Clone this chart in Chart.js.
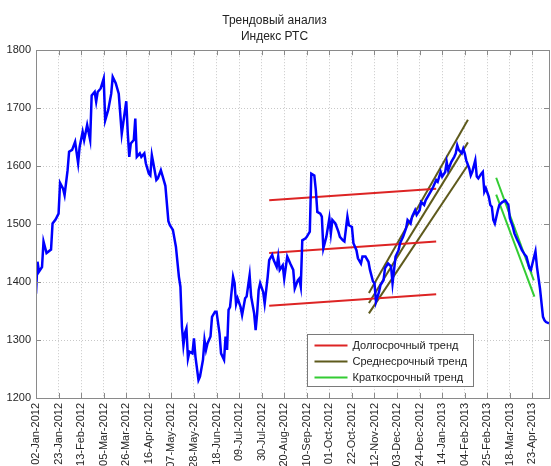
<!DOCTYPE html>
<html>
<head>
<meta charset="utf-8">
<script src="https://cdn.jsdelivr.net/npm/chart.js@4.4.0/dist/chart.umd.min.js"></script>
<style>
  html, body { margin: 0; padding: 0; background: #fff; }
  #wrap { width: 551px; height: 466px; }
</style>
</head>
<body>
<div id="wrap"><canvas id="chart" width="551" height="466"></canvas></div>
<script>
/* ── data ── */
// x = trading-day index, ticks every 15 trading days
const tickLabels = [
  '02-Jan-2012', '23-Jan-2012', '13-Feb-2012', '05-Mar-2012', '26-Mar-2012', '16-Apr-2012',
  '07-May-2012', '28-May-2012', '18-Jun-2012', '09-Jul-2012', '30-Jul-2012', '20-Aug-2012',
  '10-Sep-2012', '01-Oct-2012', '22-Oct-2012', '12-Nov-2012', '03-Dec-2012', '24-Dec-2012',
  '14-Jan-2013', '04-Feb-2013', '25-Feb-2013', '18-Mar-2013', '23-Apr-2013'
];
const yTicks = [1200, 1300, 1400, 1500, 1600, 1700, 1800];

const dayIdx = [
  0, 1, 2, 4, 5, 7, 10, 11, 13, 15, 16, 18, 19, 21, 22, 24, 26, 28, 29, 31, 32, 34, 36, 37, 39,
  40, 41, 43, 45, 46, 48, 50, 51, 53, 55, 57, 60, 61, 62, 63, 65, 66, 67, 69, 70, 72, 73, 75, 76,
  77, 78, 80, 81, 83, 84, 86, 88, 89, 91, 93, 95, 96, 97, 98, 99, 100, 101, 102, 104, 105, 106,
  108, 109, 111, 112, 113, 114, 116, 117, 119, 120, 122, 123, 125, 126, 127, 128, 129, 131, 132,
  133, 134, 136, 137, 139, 140, 142, 143, 145, 146, 147, 148, 149, 151, 152, 154, 155, 157, 158,
  160, 161, 162, 164, 165, 167, 168, 169, 171, 172, 174, 175, 176, 177, 179, 180, 182, 183, 185,
  186, 187, 189, 190, 191, 193, 195, 196, 197, 199, 201, 202, 204, 205, 207, 208, 210, 211, 213,
  214, 216, 217, 219, 221, 222, 224, 225, 226, 228, 229, 231, 232, 234, 236, 237, 239, 241, 242,
  244, 246, 247, 249, 250, 252, 253, 255, 256, 258, 259, 261, 263, 264, 266, 267, 269, 270, 272,
  273, 274, 276, 278, 279, 280, 281, 283, 284, 285, 286, 288, 289, 290, 292, 293, 294, 296, 297,
  298, 299, 301, 302, 303, 304, 305, 307, 308, 310, 312, 314, 315, 317, 318, 320, 321, 323, 325,
  326, 328, 329, 330, 332, 333, 335, 337, 338, 339, 341
];
const rtsValues = [
  1380, 1435, 1418, 1426, 1470, 1450, 1456, 1501, 1508, 1518, 1571, 1561, 1550, 1593, 1625, 1628,
  1642, 1605, 1633, 1659, 1645, 1671, 1645, 1722, 1728, 1711, 1728, 1734, 1751, 1679, 1697, 1725,
  1754, 1743, 1725, 1656, 1712, 1657, 1616, 1639, 1645, 1682, 1616, 1622, 1616, 1622, 1605, 1587,
  1584, 1619, 1605, 1576, 1579, 1593, 1584, 1566, 1505, 1498, 1490, 1461, 1409, 1392, 1323, 1291,
  1312, 1320, 1268, 1280, 1277, 1303, 1271, 1231, 1237, 1266, 1300, 1283, 1294, 1306, 1340, 1349,
  1349, 1311, 1277, 1266, 1306, 1283, 1352, 1357, 1409, 1398, 1362, 1372, 1357, 1343, 1372, 1375,
  1412, 1375, 1346, 1317, 1346, 1386, 1398, 1383, 1363, 1409, 1438, 1447, 1438, 1426, 1444, 1421,
  1429, 1406, 1444, 1438, 1432, 1421, 1389, 1403, 1406, 1392, 1472, 1475, 1478, 1487, 1587, 1584,
  1559, 1521, 1518, 1513, 1458, 1478, 1510, 1484, 1507, 1501, 1487, 1478, 1472, 1470, 1513, 1498,
  1495, 1467, 1455, 1441, 1432, 1444, 1444, 1435, 1421, 1401, 1398, 1366, 1383, 1395, 1403, 1424,
  1432, 1427, 1398, 1444, 1455, 1467, 1478, 1493, 1507, 1501, 1513, 1524, 1516, 1524, 1538, 1533,
  1541, 1550, 1559, 1564, 1576, 1573, 1590, 1582, 1590, 1607, 1593, 1607, 1616, 1622, 1636, 1628,
  1622, 1630, 1622, 1610, 1596, 1584, 1590, 1610, 1582, 1579, 1587, 1590, 1556, 1562, 1547, 1533,
  1530, 1507, 1501, 1524, 1533, 1538, 1541, 1533, 1510, 1495, 1484, 1472, 1467, 1455, 1447, 1444,
  1424, 1421, 1432, 1453, 1426, 1389, 1340, 1334, 1331, 1329
];

// trend lines: [startIdx, startVal, endIdx, endVal]
const longTrend = [
  [155, 1541, 266, 1561],
  [155, 1450, 266, 1470],
  [155, 1359, 266, 1379]
];
const midTrend = [
  [221.3, 1381, 287.1, 1680],
  [221.3, 1364, 287.1, 1641],
  [221.3, 1346, 287.1, 1602]
];
const shortTrend = [
  [305.9, 1580, 330.9, 1403],
  [305.9, 1551, 331.3, 1375]
];

const legendNames = ['Долгосрочный тренд', 'Среднесрочный тренд', 'Краткосрочный тренд'];

/* ── styles ── */
const FONT = "'Liberation Sans', Arial, sans-serif";
const COL_RED = '#dd2424';
const COL_OLIVE = '#5e5a1c';
const COL_GREEN = '#33cc33';
const AXIS_COL = '#8a8a8a';

function trendSets(lines, color, name) {
  return lines.map((l, i) => ({
    label: i === 0 ? name : '',
    data: [{ x: l[0], y: l[1] }, { x: l[2], y: l[3] }],
    borderColor: color,
    borderWidth: 2,
    pointRadius: 0,
    tension: 0
  }));
}

const datasets = [
  {
    label: 'РТС',
    data: dayIdx.map((d, i) => ({ x: d, y: rtsValues[i] })),
    borderColor: '#0000ff',
    borderWidth: 2.5,
    pointRadius: 0,
    tension: 0
  },
  ...trendSets(longTrend, COL_RED, legendNames[0]),
  ...trendSets(midTrend, COL_OLIVE, legendNames[1]),
  ...trendSets(shortTrend, COL_GREEN, legendNames[2])
];

/* ── box, inward ticks, legend ── */
const matlabBox = {
  id: 'matlabBox',
  afterDraw(chart) {
    const { ctx, chartArea: a, scales } = chart;
    ctx.save();
    ctx.strokeStyle = AXIS_COL;
    ctx.lineWidth = 1;
    ctx.strokeRect(Math.round(a.left) + 0.5, Math.round(a.top) + 0.5,
      Math.round(a.right - a.left), Math.round(a.bottom - a.top));
    ctx.beginPath();
    scales.x.ticks.forEach(t => {
      const px = Math.round(scales.x.getPixelForValue(t.value)) + 0.5;
      ctx.moveTo(px, a.bottom); ctx.lineTo(px, a.bottom - 5);
      ctx.moveTo(px, a.top); ctx.lineTo(px, a.top + 5);
    });
    scales.y.ticks.forEach(t => {
      const py = Math.round(scales.y.getPixelForValue(t.value)) + 0.5;
      ctx.moveTo(a.left, py); ctx.lineTo(a.left + 5, py);
      ctx.moveTo(a.right, py); ctx.lineTo(a.right - 5, py);
    });
    ctx.stroke();

    // legend box
    const lx = Math.round(a.left + 271) + 0.5, ly = Math.round(a.top + 284) + 0.5;
    const lw = 166, lh = 52;
    ctx.fillStyle = '#fff';
    ctx.fillRect(lx, ly, lw, lh);
    ctx.strokeStyle = '#7a7a7a';
    ctx.strokeRect(lx, ly, lw, lh);
    const items = [COL_RED, COL_OLIVE, COL_GREEN];
    ctx.font = '11px ' + FONT;
    ctx.textBaseline = 'middle';
    ctx.textAlign = 'left';
    items.forEach((c, i) => {
      const yy = ly + 11 + i * 16;
      ctx.strokeStyle = c;
      ctx.lineWidth = 2;
      ctx.beginPath();
      ctx.moveTo(lx + 7, yy); ctx.lineTo(lx + 40, yy);
      ctx.stroke();
      ctx.fillStyle = '#222';
      ctx.fillText(legendNames[i], lx + 45, yy);
    });
    ctx.restore();
  }
};

new Chart(document.getElementById('chart'), {
  type: 'line',
  data: { datasets },
  plugins: [matlabBox],
  options: {
    responsive: false,
    animation: false,
    layout: { padding: { left: 0, right: 2, top: 0, bottom: 0 } },
    plugins: {
      legend: { display: false },
      tooltip: { enabled: false },
      title: {
        display: true,
        text: ['Трендовый анализ', 'Индекс РТС'],
        color: '#222',
        font: { family: FONT, size: 12, weight: 'normal', lineHeight: 1.3 },
        padding: { top: 13, bottom: 6 }
      }
    },
    scales: {
      x: {
        type: 'linear',
        min: 0, max: 341,
        afterBuildTicks: s => { s.ticks = tickLabels.map((_, i) => ({ value: i * 15 })); },
        afterFit: s => { s.height = 68; },
        ticks: {
          autoSkip: false,
          minRotation: 90, maxRotation: 90,
          padding: 5,
          color: '#262626',
          font: { family: FONT, size: 11 },
          callback: (v, i) => tickLabels[i]
        },
        grid: { color: '#c8c8c8', drawTicks: false },
        border: { display: true, color: AXIS_COL, dash: [1, 2] }
      },
      y: {
        min: 1200, max: 1800,
        afterBuildTicks: s => { s.ticks = yTicks.map(v => ({ value: v })); },
        afterFit: s => { s.width = 36; },
        ticks: {
          padding: 5,
          color: '#262626',
          font: { family: FONT, size: 11 },
          callback: v => String(v)
        },
        grid: { color: '#c8c8c8', drawTicks: false },
        border: { display: true, color: AXIS_COL, dash: [1, 2] }
      }
    }
  }
});
</script>
</body>
</html>
